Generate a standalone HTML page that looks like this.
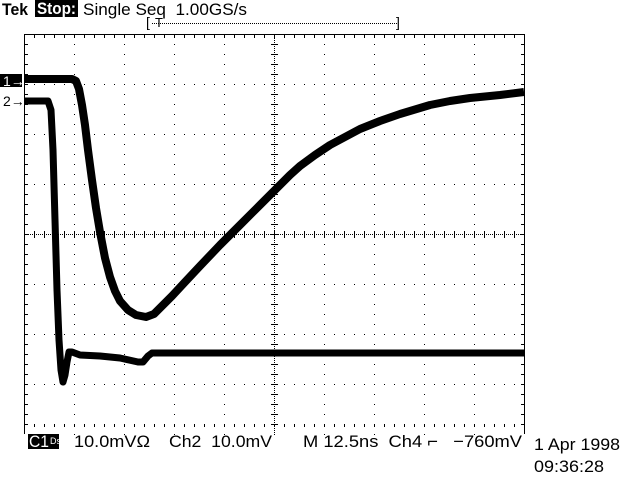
<!DOCTYPE html>
<html><head><meta charset="utf-8"><style>
html,body{margin:0;padding:0;background:#fff;width:640px;height:480px;overflow:hidden}
svg{display:block}
text{font-family:"Liberation Sans","DejaVu Sans",sans-serif;font-size:17px;fill:#000}
</style></head><body>
<svg id="s" width="640" height="480" viewBox="0 0 640 480" xmlns="http://www.w3.org/2000/svg" shape-rendering="crispEdges">
<rect width="640" height="480" fill="#fff"/>
<g id="grid"></g>
<line x1="24.5" y1="34" x2="24.5" y2="434" stroke="#000"/>
<line x1="524.5" y1="34" x2="524.5" y2="434" stroke="#000"/>
<line x1="24" y1="34.5" x2="525" y2="34.5" stroke="#000"/>
<g shape-rendering="auto" fill="none" stroke="#000" stroke-linejoin="round" stroke-linecap="butt">
<polyline stroke-width="8" points="25,79 72,79 76,81 79,89 82,105 85,125 88,150 92,180 96,208 100,232 105,258 110,277 115,291 120,301 128,310 136,315 146,317 154,314 162,306 172,296 185,282 200,266 220,245 240,225 260,205 274,191 290,175 300,166 315,155 330,145 345,137 360,129 380,121 400,114 430,105 450,101 470,98 500,95 524,92"/>
<polyline stroke-width="7" points="25,101 48,101 51,110 53,150 55,220 57,290 59,340 61,370 63,382 65,375 67,362 69,352 72,352 80,355 100,356 120,358 138,362 143,362 148,356 152,353 170,353 524,353"/>
</g>
<rect x="0" y="74" width="22" height="13" fill="#000"/>
<text x="3" y="86" style="fill:#fff;font-size:14px">1→</text>
<text x="3" y="106" style="font-size:14px">2→</text>
<text x="2" y="15" style="font-weight:bold" textLength="26" lengthAdjust="spacingAndGlyphs">Tek</text>
<rect x="35" y="0" width="43" height="17" fill="#000"/>
<text x="37" y="14" style="fill:#fff;font-weight:bold" textLength="39" lengthAdjust="spacingAndGlyphs">Stop:</text>
<text x="83" y="15" textLength="164" lengthAdjust="spacingAndGlyphs">Single Seq&#160; 1.00GS/s</text>
<text x="146" y="27" style="font-size:14px">[</text>
<text x="396" y="27" style="font-size:14px">]</text>
<line x1="152" y1="23.5" x2="398" y2="23.5" stroke="#000" stroke-dasharray="1 1"/>
<text x="155" y="27" style="font-size:13px">T</text>
<rect x="28" y="434" width="31" height="15" fill="#000"/>
<text x="29" y="447" style="fill:#fff" textLength="20" lengthAdjust="spacingAndGlyphs">C1</text>
<text x="50" y="444" style="fill:#fff;font-size:9px">Ds</text>
<text x="74" y="447" textLength="76" lengthAdjust="spacingAndGlyphs">10.0mVΩ</text>
<text x="169" y="447" textLength="103" lengthAdjust="spacingAndGlyphs">Ch2&#160; 10.0mV</text>
<text x="303" y="447" textLength="219" lengthAdjust="spacingAndGlyphs">M 12.5ns&#160; Ch4 ⌐&#160;&#160; −760mV</text>
<text x="534" y="450" textLength="86" lengthAdjust="spacingAndGlyphs">1 Apr 1998</text>
<text x="534" y="472" textLength="70" lengthAdjust="spacingAndGlyphs">09:36:28</text>
</svg>
<script>
var g=document.getElementById('grid'),h='';
function d(x,y,w,hh){h+='<rect x="'+x+'" y="'+y+'" width="'+(w||1)+'" height="'+(hh||1)+'"/>';}
for(var k=1;k<10;k++){var x=24+50*k;if(x===274)continue;for(var y=34;y<=434;y+=10)d(x,y);}
for(var k=1;k<8;k++){var y=34+50*k;if(y===234)continue;for(var x=24;x<=524;x+=10)d(x,y);}
for(var y=34;y<=434;y+=2)d(274,y);
for(var x=24;x<=524;x+=2)d(x,234);
for(var y=44;y<434;y+=10){d(271,y,7,1);d(25,y,3,1);d(521,y,3,1);}
for(var x=34;x<524;x+=10){d(x,231,1,7);d(x,35,1,3);d(x,424,1,3);}
g.innerHTML=h;g.setAttribute('fill','#000');
</script>
</body></html>
